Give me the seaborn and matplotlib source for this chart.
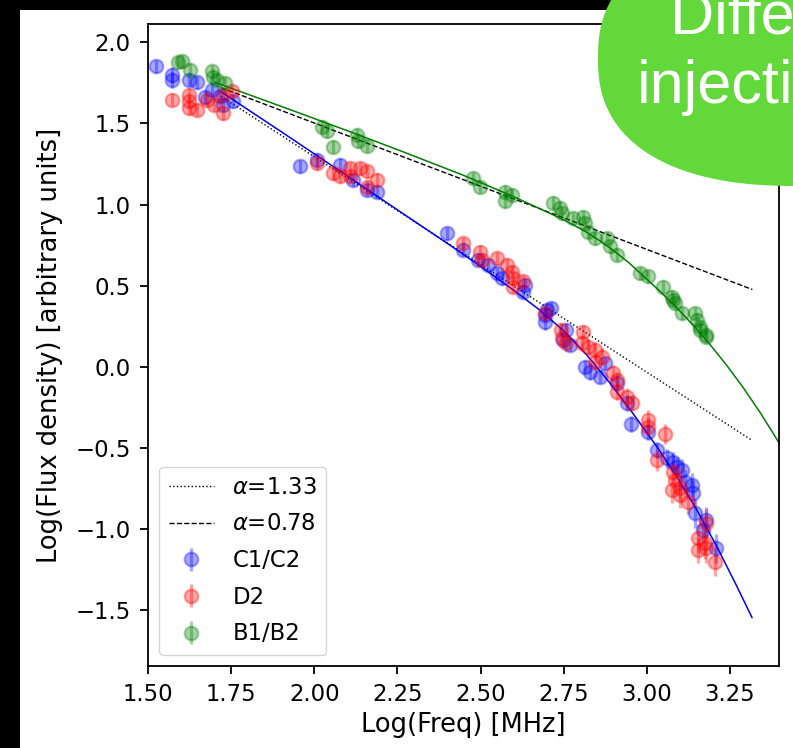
import numpy as np
import matplotlib
matplotlib.use("Agg")
import matplotlib.pyplot as plt
import seaborn as sns
from matplotlib.patches import Rectangle, Polygon

# ---- measured spectra: log10(frequency / MHz), log10(flux density), 1-sigma error ----
c1c2_logf = [1.524, 1.573, 1.573, 1.624, 1.646, 1.671, 1.691, 1.716, 1.724, 1.756,
             1.957, 2.007, 2.077, 2.117, 2.157, 2.189,
             2.398, 2.448, 2.493, 2.523, 2.548, 2.563, 2.628, 2.633,
             2.693, 2.693, 2.699, 2.713, 2.758, 2.749, 2.769,
             2.814, 2.829, 2.859, 2.874, 2.909, 2.939, 2.952,
             3.004, 3.029, 3.059, 3.079, 3.089, 3.104, 3.114, 3.134, 3.139, 3.144, 3.179, 3.169, 3.209]
c1c2_logs = [1.854, 1.800, 1.770, 1.770, 1.753, 1.663, 1.708, 1.671, 1.615, 1.636,
             1.235, 1.276, 1.245, 1.153, 1.091, 1.080,
             0.823, 0.720, 0.659, 0.628, 0.577, 0.546, 0.463, 0.504,
             0.319, 0.278, 0.350, 0.360, 0.226, 0.165, 0.134,
             0.000, -0.031, -0.062, 0.021, -0.103, -0.226, -0.355,
             -0.406, -0.514, -0.566, -0.586, -0.617, -0.638, -0.710, -0.730, -0.782, -0.905, -0.946, -1.008, -1.121]
c1c2_err = [0.04, 0.05, 0.05, 0.04, 0.04, 0.04, 0.04, 0.04, 0.04, 0.04,
            0.04, 0.04, 0.04, 0.04, 0.04, 0.04,
            0.04, 0.04, 0.04, 0.04, 0.04, 0.04, 0.04, 0.04,
            0.04, 0.05, 0.04, 0.04, 0.04, 0.05, 0.04,
            0.04, 0.05, 0.04, 0.04, 0.05, 0.05, 0.05,
            0.05, 0.05, 0.06, 0.06, 0.06, 0.07, 0.07, 0.07, 0.08, 0.09, 0.08, 0.08, 0.09]

d2_logf = [1.573, 1.624, 1.624, 1.624, 1.646, 1.676, 1.698, 1.724, 1.726, 1.752,
           2.007, 2.057, 2.077, 2.107, 2.137, 2.157, 2.187, 2.157, 2.107,
           2.448, 2.498, 2.503, 2.548, 2.578, 2.593, 2.598, 2.598, 2.628,
           2.693, 2.741, 2.744, 2.758, 2.809, 2.804, 2.824, 2.844, 2.844, 2.864,
           2.899, 2.909, 2.909, 2.939, 2.954, 3.004, 3.004, 3.054, 3.029, 3.079,
           3.084, 3.074, 3.099, 3.099, 3.124, 3.179, 3.154, 3.174, 3.154, 3.179, 3.204]
d2_logs = [1.646, 1.677, 1.636, 1.595, 1.585, 1.646, 1.615, 1.564, 1.677, 1.698,
           1.255, 1.194, 1.173, 1.225, 1.225, 1.204, 1.153, 1.111, 1.173,
           0.762, 0.710, 0.659, 0.669, 0.628, 0.586, 0.546, 0.494, 0.525,
           0.330, 0.226, 0.175, 0.144, 0.216, 0.144, 0.123, 0.103, 0.031, 0.062,
           -0.041, -0.082, -0.154, -0.185, -0.226, -0.329, -0.370, -0.416, -0.576, -0.653,
           -0.700, -0.761, -0.751, -0.792, -0.833, -0.967, -1.059, -1.090, -1.131, -1.121, -1.204]
d2_err = [0.04, 0.04, 0.04, 0.04, 0.04, 0.04, 0.04, 0.04, 0.04, 0.04,
          0.04, 0.04, 0.04, 0.04, 0.04, 0.04, 0.04, 0.04, 0.04,
          0.04, 0.04, 0.04, 0.04, 0.04, 0.04, 0.04, 0.04, 0.04,
          0.04, 0.04, 0.04, 0.05, 0.04, 0.05, 0.05, 0.05, 0.05, 0.05,
          0.05, 0.05, 0.05, 0.05, 0.05, 0.06, 0.06, 0.06, 0.07, 0.07,
          0.08, 0.08, 0.08, 0.08, 0.08, 0.09, 0.09, 0.10, 0.08, 0.09, 0.09]

b1b2_logf = [1.591, 1.601, 1.626, 1.691, 1.696, 1.706, 1.731,
             2.022, 2.037, 2.057, 2.127, 2.132, 2.157,
             2.478, 2.498, 2.573, 2.593, 2.573,
             2.718, 2.739, 2.744, 2.779, 2.809, 2.814, 2.824, 2.844, 2.879, 2.889, 2.909,
             2.979, 3.004, 3.049, 3.074, 3.079, 3.084, 3.104, 3.144, 3.149, 3.159, 3.159, 3.179, 3.179]
b1b2_logs = [1.877, 1.883, 1.831, 1.821, 1.790, 1.770, 1.749,
             1.481, 1.451, 1.358, 1.430, 1.389, 1.362,
             1.163, 1.111, 1.080, 1.060, 1.019,
             1.012, 0.980, 0.947, 0.916, 0.926, 0.885, 0.833, 0.793, 0.793, 0.741, 0.690,
             0.577, 0.556, 0.494, 0.432, 0.412, 0.391, 0.330, 0.330, 0.288, 0.247, 0.226, 0.196, 0.185]
b1b2_err = [0.04] * 7 + [0.04] * 6 + [0.04] * 5 + [0.04] * 11 + [0.04] * 13

# ---- model curves ----
c1c2_fit_logf = [1.72, 1.90, 2.10, 2.26, 2.40, 2.50, 2.60, 2.68, 2.75, 2.82, 2.89,
                 2.96, 3.03, 3.09, 3.15, 3.21, 3.27, 3.316]
c1c2_fit_logs = [1.695, 1.45, 1.175, 0.953, 0.76, 0.618, 0.47, 0.345, 0.22, 0.07, -0.105,
                 -0.295, -0.495, -0.68, -0.885, -1.11, -1.355, -1.55]
b1b2_fit_logf = [1.70, 1.90, 2.10, 2.257, 2.45, 2.60, 2.74, 2.78, 2.82, 2.86, 2.90, 2.945,
                 2.99, 3.04, 3.09, 3.14, 3.19, 3.24, 3.29, 3.34, 3.39, 3.44]
b1b2_fit_logs = [1.755, 1.606, 1.455, 1.333, 1.179, 1.048, 0.915, 0.873, 0.827, 0.774, 0.715, 0.642,
                 0.557, 0.463, 0.362, 0.253, 0.135, 0.007, -0.132, -0.283, -0.447, -0.624]

# power-law references: log S = S0 - alpha * (log nu - log nu0)
alphas = [1.33, 0.78]
alpha_logf = [1.72, 3.317]
alpha_s0 = [1.667, 1.721]

xticks = [1.50, 1.75, 2.00, 2.25, 2.50, 2.75, 3.00, 3.25]
yticks = [-1.5, -1.0, -0.5, 0.0, 0.5, 1.0, 1.5, 2.0]

sns.set_theme(style="ticks", rc={
    "axes.edgecolor": "black", "axes.labelcolor": "black", "text.color": "black",
    "xtick.color": "black", "ytick.color": "black",
    "axes.linewidth": 1.3, "xtick.major.width": 1.3, "ytick.major.width": 1.3,
    "xtick.major.size": 5.8, "ytick.major.size": 5.8,
    "xtick.major.pad": 6.5, "ytick.major.pad": 6.5,
    "axes.facecolor": "white",
})
plt.rcParams["font.family"] = ["DejaVu Sans"]

W, H = 793, 748
fig = plt.figure(figsize=(W / 100, H / 100), dpi=100, facecolor="black")
fig.patches.append(Rectangle((20 / W, 0), 1 - 20 / W, 1 - 10 / H, transform=fig.transFigure,
                             facecolor="white", edgecolor="none", zorder=-10))
ax = fig.add_axes([148 / W, 1 - 666 / H, 631 / W, 642 / H])

# reference power laws
styles = [":", "--"]
for a, s0, ls in zip(alphas, alpha_s0, styles):
    ys = [s0 - a * (x - alpha_logf[0]) for x in alpha_logf]
    sns.lineplot(x=alpha_logf, y=ys, ax=ax, color="black", linestyle=ls, linewidth=1.0,
                 label=rf"$\alpha$={a:.2f}", sort=False, estimator=None)

# fitted spectral models
sns.lineplot(x=c1c2_fit_logf, y=c1c2_fit_logs, ax=ax, color="blue", linewidth=1.1,
             sort=False, estimator=None)
sns.lineplot(x=b1b2_fit_logf, y=b1b2_fit_logs, ax=ax, color="green", linewidth=1.1,
             sort=False, estimator=None)

# data with error bars
for xs, ys, es, col, lab in [(c1c2_logf, c1c2_logs, c1c2_err, "blue", "C1/C2"),
                             (d2_logf, d2_logs, d2_err, "red", "D2"),
                             (b1b2_logf, b1b2_logs, b1b2_err, "green", "B1/B2")]:
    ax.errorbar(xs, ys, yerr=es, fmt="o", color=col, alpha=0.34, ms=9.8, mew=1.6,
                elinewidth=2.4, label=lab)

ax.set_xlim(1.5, 3.397)
ax.set_ylim(-1.848, 2.114)
ax.set_xticks(xticks)
ax.set_yticks(yticks)
ax.set_xticklabels([f"{t:.2f}" for t in xticks])
ax.set_yticklabels([f"{t:.1f}".replace("-", "\u2212") for t in yticks])
ax.tick_params(labelsize=16.4)
ax.set_xlabel("Log(Freq) [MHz]", fontsize=18.5, labelpad=4)
ax.set_ylabel("Log(Flux density) [arbitrary units]", fontsize=18.5, labelpad=9)
for sp in ax.spines.values():
    sp.set_visible(True)

leg = ax.legend(loc="lower left", fontsize=16.4, frameon=True, fancybox=True,
                framealpha=0.8, edgecolor="0.8", labelspacing=0.6)

# green callout bubble in the corner
n_exp, cx, cy, ra, rb = 2.4, 800, 58, 202, 128
t = np.linspace(0, 2 * np.pi, 400)
px = cx + ra * np.sign(np.cos(t)) * np.abs(np.cos(t)) ** (2 / n_exp)
py = cy + rb * np.sign(np.sin(t)) * np.abs(np.sin(t)) ** (2 / n_exp)
fig.patches.append(Polygon(np.column_stack([px / W, 1 - py / H]), closed=True,
                           transform=fig.transFigure, facecolor="#63d83b",
                           edgecolor="none", zorder=5))
fig.text(670 / W, 1 - 33 / H, "Different", color="white", fontsize=44,
         family="Liberation Sans", ha="left", va="baseline", zorder=6)
fig.text(637 / W, 1 - 103 / H, "injection", color="white", fontsize=44,
         family="Liberation Sans", ha="left", va="baseline", zorder=6)

fig.savefig("out.png", dpi=100, facecolor="black")
